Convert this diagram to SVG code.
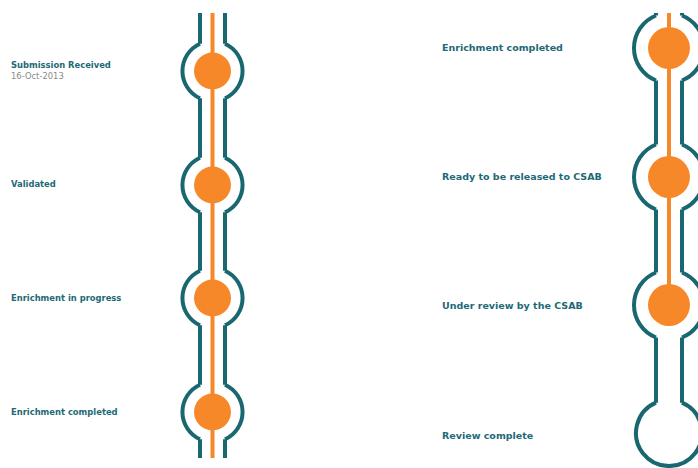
<svg xmlns="http://www.w3.org/2000/svg" width="698" height="468" viewBox="0 0 698 468">
<style>
.out{fill:none;stroke:#196770;stroke-width:4}
.core{fill:none;stroke:#f7882a;stroke-width:4}
.dot{fill:#f7882a}
.lbl{font-family:"DejaVu Sans",Verdana,sans-serif;font-weight:bold;fill:#1d6976}
.sm{font-size:8.4px}
.lg{font-size:9.5px}
.date{font-family:"DejaVu Sans",Verdana,sans-serif;font-size:8.4px;fill:#8a8a8a}
</style>
<rect width="698" height="468" fill="#ffffff"/>
<g id="connectors">
<path class="core" d="M212.5,13 V458"/>
<path class="out" d="M200,13 V43.7 M225,13 V43.7 M200,98.3 V157.7 M225,98.3 V157.7 M200,212.3 V270.7 M225,212.3 V270.7 M200,325.3 V384.7 M225,325.3 V384.7 M200,439.3 V458 M225,439.3 V458"/>
<path class="core" d="M669,13 V305"/>
<path class="out" d="M656,13 V15.5 M682,13 V15.5 M656,80.5 V144.5 M682,80.5 V144.5 M656,209.5 V272.5 M682,209.5 V272.5 M656,337.5 V402.7 M682,337.5 V402.7"/>
</g>
<g id="node-submission">
<path class="out" d="M200,43.7 A30,30 0 0 0 200,98.3 M225,43.7 A30,30 0 0 1 225,98.3"/>
<circle class="dot" cx="212.5" cy="71" r="18.5"/>
<text class="lbl sm" x="11" y="68">Submission Received</text>
<text class="date" x="11" y="79">16-Oct-2013</text>
</g>
<g id="node-validated">
<path class="out" d="M200,157.7 A30,30 0 0 0 200,212.3 M225,157.7 A30,30 0 0 1 225,212.3"/>
<circle class="dot" cx="212.5" cy="185" r="18.5"/>
<text class="lbl sm" x="11" y="187">Validated</text>
</g>
<g id="node-enrich-progress">
<path class="out" d="M200,270.7 A30,30 0 0 0 200,325.3 M225,270.7 A30,30 0 0 1 225,325.3"/>
<circle class="dot" cx="212.5" cy="298" r="18.5"/>
<text class="lbl sm" x="11" y="301">Enrichment in progress</text>
</g>
<g id="node-enrich-completed-left">
<path class="out" d="M200,384.7 A30,30 0 0 0 200,439.3 M225,384.7 A30,30 0 0 1 225,439.3"/>
<circle class="dot" cx="212.5" cy="412" r="18.5"/>
<text class="lbl sm" x="11" y="415">Enrichment completed</text>
</g>
<g id="node-enrich-completed-right">
<path class="out" d="M656,15.5 A35,35 0 0 0 656,80.5 M682,15.5 A35,35 0 0 1 682,80.5"/>
<circle class="dot" cx="669" cy="48" r="21"/>
<text class="lbl lg" x="442" y="51">Enrichment completed</text>
</g>
<g id="node-ready">
<path class="out" d="M656,144.5 A35,35 0 0 0 656,209.5 M682,144.5 A35,35 0 0 1 682,209.5"/>
<circle class="dot" cx="669" cy="177" r="21"/>
<text class="lbl lg" x="442" y="180">Ready to be released to CSAB</text>
</g>
<g id="node-review">
<path class="out" d="M656,272.5 A35,35 0 0 0 656,337.5 M682,272.5 A35,35 0 0 1 682,337.5"/>
<circle class="dot" cx="669" cy="305" r="21"/>
<text class="lbl lg" x="442" y="309">Under review by the CSAB</text>
</g>
<g id="node-complete">
<path class="out" d="M656,402.7 A33,33 0 1 0 682,402.7"/>
<text class="lbl lg" x="442" y="439">Review complete</text>
</g>
</svg>
